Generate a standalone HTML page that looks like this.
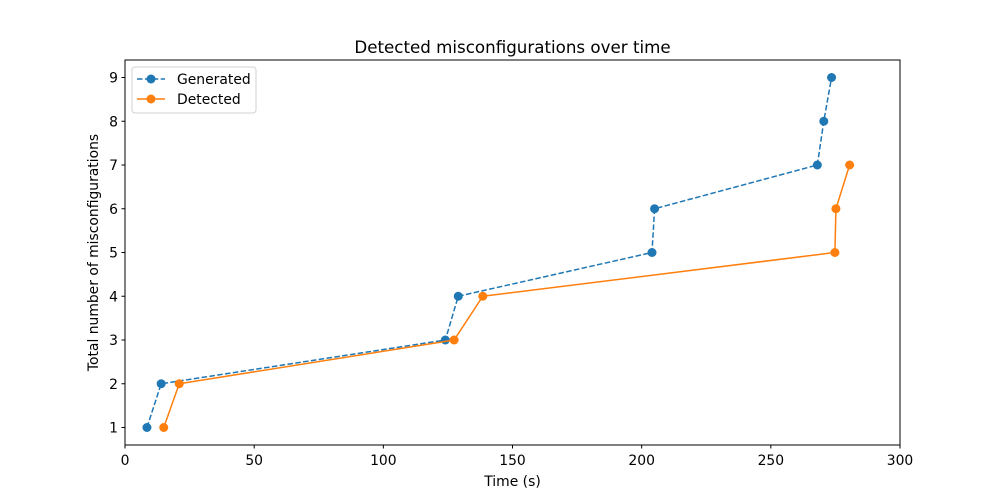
<!DOCTYPE html>
<html><head><meta charset="utf-8"><style>
html,body{margin:0;padding:0;background:#fff;}
svg{display:block;font-family:"DejaVu Sans","Liberation Sans",sans-serif;}
</style></head><body>
<svg id="chart" width="1000" height="500" viewBox="0 0 1000 500">
<rect x="0" y="0" width="1000" height="500" fill="#fff"/>
<text x="512.5" y="53" font-size="16.7" text-anchor="middle">Detected misconfigurations over time</text>
<g id="grid"></g>
<g id="series"></g>
<rect x="125" y="60" width="775" height="385" fill="none" stroke="#000" stroke-width="1"/>
<g id="xticks"></g><g id="yticks"></g>
<text x="512.5" y="486" font-size="13.9" text-anchor="middle">Time (s)</text>
<text transform="translate(98,252.5) rotate(-90)" font-size="13.9" text-anchor="middle">Total number of misconfigurations</text>
<g>
<rect x="132" y="67" width="124" height="46" rx="3" fill="#fff" stroke="#ccc" stroke-opacity="0.9"/>
<g>
<line x1="137" y1="79" x2="165" y2="79" stroke="#1f77b4" stroke-width="1.5" stroke-dasharray="5.5,2.4"/>
<circle cx="151" cy="79" r="4.5" fill="#1f77b4"/>
<text x="177" y="84" font-size="13.9">Generated</text></g>
<g>
<line x1="137" y1="99" x2="165" y2="99" stroke="#ff7f0e" stroke-width="1.5"/>
<circle cx="151" cy="99" r="4.5" fill="#ff7f0e"/>
<text x="177" y="104" font-size="13.9">Detected</text></g>
</g>
</svg>
<script>
const genX=[8.5,14,124,129,204,205,268,270.5,273.5];
const genY=[1,2,3,4,5,6,7,8,9];
const detX=[15,21,127.4,138.5,274.8,275.2,280.5];
const detY=[1,2,3,4,5,6,7];
const xTicks=[0,50,100,150,200,250,300];
const yTicks=[1,2,3,4,5,6,7,8,9];
const NS='http://www.w3.org/2000/svg';
const xs=v=>125+(v-0)/300*775;
const ys=v=>445-(v-0.6)/8.8*385;
function mk(t,a,p){const e=document.createElementNS(NS,t);for(const k in a)e.setAttribute(k,a[k]);p.appendChild(e);return e;}
const xt=document.getElementById('xticks'),yt=document.getElementById('yticks'),sg=document.getElementById('series');
xTicks.forEach(v=>{const x=xs(v);
const l=mk('line',{x1:x,x2:x,y1:445,y2:448.5,stroke:'#000'},xt);


const t=mk('text',{x:x,y:465,'font-size':13.9,'text-anchor':'middle'},xt);t.textContent=v;

});
yTicks.forEach(v=>{const y=ys(v);
const l=mk('line',{x1:121.5,x2:125,y1:y,y2:y,stroke:'#000'},yt);


const t=mk('text',{x:118,y:y+5,'font-size':13.9,'text-anchor':'end'},yt);t.textContent=v;

});
function series(X,Y,color,dash,name){
const g=mk('g',{},sg);


const pts=X.map((x,i)=>xs(x)+','+ys(Y[i])).join(' ');
const pl=mk('polyline',{points:pts,fill:'none',stroke:color,'stroke-width':1.5},g);
if(dash)pl.setAttribute('stroke-dasharray','5.5,2.4');


X.forEach((x,i)=>{const c=mk('circle',{cx:xs(x),cy:ys(Y[i]),r:4.5,fill:color},g);

});
}
series(genX,genY,'#1f77b4',true,'generated-series');
series(detX,detY,'#ff7f0e',false,'detected-series');
</script>
</body></html>
